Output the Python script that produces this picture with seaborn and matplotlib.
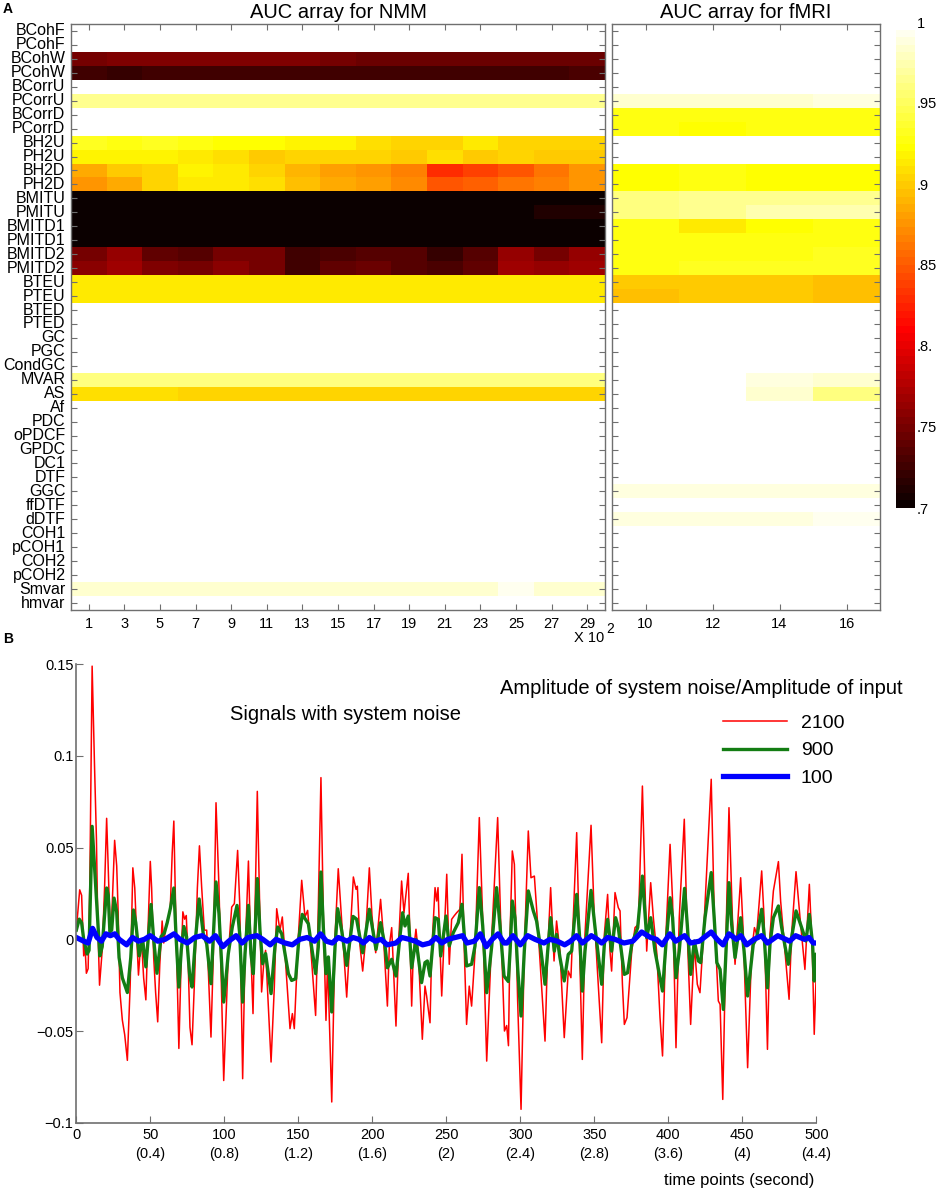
import numpy as np
import matplotlib
matplotlib.use('Agg')
import matplotlib.pyplot as plt
import seaborn as sns
import pandas as pd

plt.rcParams['font.family'] = ['Liberation Sans', 'DejaVu Sans']

W, H = 939, 1191

# ---- panel A data: AUC arrays ----
methods = ['BCohF', 'PCohF', 'BCohW', 'PCohW', 'BCorrU', 'PCorrU', 'BCorrD', 'PCorrD',
           'BH2U', 'PH2U', 'BH2D', 'PH2D', 'BMITU', 'PMITU', 'BMITD1', 'PMITD1',
           'BMITD2', 'PMITD2', 'BTEU', 'PTEU', 'BTED', 'PTED', 'GC', 'PGC', 'CondGC',
           'MVAR', 'AS', 'Af', 'PDC', 'oPDCF', 'GPDC', 'DC1', 'DTF', 'GGC', 'ffDTF',
           'dDTF', 'COH1', 'pCOH1', 'COH2', 'pCOH2', 'Smvar', 'hmvar']
nmm_cols = ['1', '3', '5', '7', '9', '11', '13', '15', '17', '19', '21', '23', '25', '27', '29']
fmri_cols = ['10', '12', '14', '16']

nmm_auc = [
    [1.0] * 15,
    [1.0] * 15,
    [0.748, 0.752, 0.752, 0.752, 0.752, 0.752, 0.752, 0.750, 0.746, 0.746, 0.746, 0.746, 0.746, 0.746, 0.746],
    [0.727, 0.722, 0.726, 0.726, 0.726, 0.726, 0.726, 0.726, 0.726, 0.726, 0.726, 0.726, 0.726, 0.726, 0.731],
    [1.0] * 15,
    [0.966, 0.966, 0.964, 0.966, 0.964, 0.966, 0.965, 0.964, 0.963, 0.965, 0.963, 0.963, 0.963, 0.963, 0.965],
    [1.0] * 15,
    [1.0] * 15,
    [0.930, 0.928, 0.930, 0.928, 0.922, 0.922, 0.920, 0.918, 0.908, 0.906, 0.906, 0.912, 0.906, 0.905, 0.903],
    [0.917, 0.917, 0.918, 0.913, 0.910, 0.897, 0.905, 0.905, 0.902, 0.900, 0.910, 0.897, 0.905, 0.900, 0.900],
    [0.883, 0.897, 0.904, 0.918, 0.914, 0.904, 0.890, 0.880, 0.874, 0.865, 0.827, 0.839, 0.846, 0.862, 0.876],
    [0.874, 0.887, 0.904, 0.911, 0.911, 0.907, 0.893, 0.887, 0.881, 0.870, 0.846, 0.850, 0.862, 0.865, 0.874],
    [0.701] * 15,
    [0.701, 0.701, 0.701, 0.701, 0.701, 0.701, 0.701, 0.701, 0.701, 0.701, 0.701, 0.701, 0.701, 0.711, 0.711],
    [0.701] * 15,
    [0.701] * 15,
    [0.750, 0.761, 0.742, 0.735, 0.747, 0.747, 0.728, 0.732, 0.737, 0.733, 0.721, 0.733, 0.761, 0.750, 0.762],
    [0.758, 0.770, 0.753, 0.750, 0.760, 0.748, 0.726, 0.738, 0.746, 0.733, 0.731, 0.738, 0.768, 0.764, 0.768],
    [0.914] * 15,
    [0.914] * 15,
    [1.0] * 15,
    [1.0] * 15,
    [1.0] * 15,
    [1.0] * 15,
    [1.0] * 15,
    [0.958] * 15,
    [0.907, 0.907, 0.907, 0.902, 0.902, 0.902, 0.902, 0.902, 0.902, 0.902, 0.902, 0.902, 0.902, 0.902, 0.902],
    [1.0] * 15,
    [1.0] * 15,
    [1.0] * 15,
    [1.0] * 15,
    [1.0] * 15,
    [1.0] * 15,
    [1.0] * 15,
    [1.0] * 15,
    [1.0] * 15,
    [1.0] * 15,
    [1.0] * 15,
    [1.0] * 15,
    [1.0] * 15,
    [0.985, 0.985, 0.985, 0.985, 0.985, 0.985, 0.985, 0.985, 0.985, 0.985, 0.985, 0.985, 0.993, 0.985, 0.985],
    [1.0] * 15,
]

fmri_auc = [
    [1.0, 1.0, 1.0, 1.0],
    [1.0, 1.0, 1.0, 1.0],
    [1.0, 1.0, 1.0, 1.0],
    [1.0, 1.0, 1.0, 1.0],
    [1.0, 1.0, 1.0, 1.0],
    [0.982, 0.982, 0.982, 0.987],
    [0.926, 0.926, 0.926, 0.926],
    [0.925, 0.922, 0.926, 0.925],
    [1.0, 1.0, 1.0, 1.0],
    [1.0, 1.0, 1.0, 1.0],
    [0.924, 0.928, 0.924, 0.924],
    [0.924, 0.928, 0.924, 0.924],
    [0.960, 0.965, 0.965, 0.965],
    [0.958, 0.963, 0.972, 0.972],
    [0.925, 0.915, 0.923, 0.925],
    [0.925, 0.928, 0.928, 0.928],
    [0.928, 0.928, 0.928, 0.930],
    [0.928, 0.930, 0.930, 0.933],
    [0.897, 0.897, 0.897, 0.895],
    [0.893, 0.899, 0.899, 0.893],
    [1.0, 1.0, 1.0, 1.0],
    [1.0, 1.0, 1.0, 1.0],
    [1.0, 1.0, 1.0, 1.0],
    [1.0, 1.0, 1.0, 1.0],
    [1.0, 1.0, 1.0, 1.0],
    [1.0, 1.0, 0.990, 0.985],
    [1.0, 1.0, 0.984, 0.962],
    [1.0, 1.0, 1.0, 1.0],
    [1.0, 1.0, 1.0, 1.0],
    [1.0, 1.0, 1.0, 1.0],
    [1.0, 1.0, 1.0, 1.0],
    [1.0, 1.0, 1.0, 1.0],
    [1.0, 1.0, 1.0, 1.0],
    [0.988, 0.988, 0.988, 0.988],
    [1.0, 1.0, 1.0, 1.0],
    [0.986, 0.990, 0.990, 0.995],
    [1.0, 1.0, 1.0, 1.0],
    [1.0, 1.0, 1.0, 1.0],
    [1.0, 1.0, 1.0, 1.0],
    [1.0, 1.0, 1.0, 1.0],
    [1.0, 1.0, 1.0, 1.0],
    [1.0, 1.0, 1.0, 1.0],
]

cbar_ticks = [0.7, 0.75, 0.8, 0.85, 0.9, 0.95, 1.0]
cbar_labels = ['.7', '.75', '.8.', '.85', '.9', '.95', '1']

# ---- panel B data: signals (time point, amplitude) ----
red_t = [0, 2.3, 3.6, 5, 5.9, 6.8, 8, 9.1, 10.7, 12.3, 13.6, 14.5, 15.7, 17.5, 19.1, 20.5, 21.4,
         22.7, 23.9, 25.9, 27.3, 28.2, 29.5, 31.1, 32.7, 34.5, 36.4, 38.2, 39.5, 40.9, 42, 43.2,
         44.3, 45.5, 47, 48.6, 50, 50.9, 52.3, 53.6, 55, 56.4, 58, 59.1, 60.5, 61.8, 63.4, 64.8,
         65.9, 67.3, 69.3, 70.9, 72, 73.2, 74.3, 75.5, 76.8, 78.2, 80, 81.8, 83.2, 84.7, 86.5,
         88.1, 91.0, 92.6, 94.4, 96.4, 99.6, 102.7, 105, 106.8, 109.0, 110.4, 112.4, 114.0, 116.3,
         118.0, 119.4, 122.3, 124.1, 125.2, 126.8, 127.9, 131.6, 133.8, 135.4, 137.6, 139.2, 141.0,
         144.4, 146.0, 147.3, 150.0, 152.3, 154.5, 156.3, 159.0, 161.7, 163.1, 165.3, 166.9, 168.7,
         169.8, 172.6, 174.8, 177.0, 179.3, 182.7, 187.2, 189.0, 189.9, 191.7, 193.5, 195.1, 198.0,
         199.8, 202.3, 205.6, 207.5, 210.2, 211.5, 213.1, 216.0, 218.0, 219.8, 221.4, 224.3, 226.6,
         227.7, 229.5, 231.1, 233.8, 235.6, 236.7, 239.0, 240.1, 242.4, 243.5, 244.4, 245.7, 246.9,
         250.3, 252.0, 253.6, 255.2, 257.0, 259.2, 260.6, 262.2, 263.7, 265.5, 267.1, 269.4, 272.3,
         274.6, 277.3, 280.7, 284.7, 286.7, 289.3, 290.8, 292.0, 293.1, 294.6, 296.0, 298.2, 300.5,
         302.7, 305.4, 307.2, 309.5, 312.2, 316.7, 318.5, 320.5, 322.8, 324.5, 326.8, 329.7, 332.4,
         334.2, 338.1, 341.9, 343.7, 347.8, 350.0, 355.0, 356.8, 359.0, 360.6, 361.7, 364.0, 366.2,
         367.4, 369.0, 370.3, 372.1, 375.3, 377.5, 379.8, 382.5, 385.4, 388.1, 389.9, 392.2, 394.4,
         396.1, 398.4, 401.2, 402.9, 405.2, 407.4, 410.8, 412.8, 415.1, 417.6, 419.6, 421.4, 423.8,
         429.0, 431.1, 433.8, 435.0, 436.8, 439.0, 441.0, 443.3, 445.1, 448.9, 450.7, 453.6, 456.3,
         458.2, 459.7, 463.1, 464.7, 467.0, 468.7, 471.0, 474.4, 475.9, 481.6, 483.3, 486.3, 489.0,
         492.3, 495.3, 497.3, 498.6, 500]
red_v = [0.005, 0.027, 0.024, -0.009, -0.004, -0.0185, -0.016, 0.028, 0.149, 0.095, 0.055, 0.009,
         -0.025, -0.006, 0.028, 0.066, 0.0435, 0.009, 0.011, 0.054, 0.04, 0.017, -0.029, -0.044,
         -0.052, -0.066, -0.025, 0.039, 0.028, 0.0, -0.0195, -0.006, -0.004, -0.021, -0.033, 0.009,
         0.0425, 0.028, -0.01, -0.029, -0.045, -0.014, 0.010, -0.002, 0.007, 0.011, 0.015, 0.047,
         0.0645, 0.009, -0.0595, -0.01, 0.015, 0.011, 0.013, -0.01, -0.048, -0.0575, -0.0195, 0.028,
         0.051, 0.0285, 0.005, 0.005, -0.0533, -0.008, 0.0745, 0.0285, -0.077, -0.008, 0.0176,
         0.0195, 0.0485, 0.0195, -0.076, -0.008, 0.0427, -0.008, -0.0405, 0.0807, 0.0104, -0.0287,
         -0.0115, -0.006, -0.0669, -0.026, 0.0167, 0.0049, 0.0122, -0.0078, -0.0487, -0.0405,
         -0.0487, 0.0013, 0.0322, 0.0122, 0.0158, -0.0115, -0.0415, 0.0013, 0.0882, 0.014, -0.0442,
         -0.0115, -0.0887, 0.0013, 0.0385, 0.0104, -0.0315, 0.0340, 0.0273, 0.029, -0.0036, -0.0173,
         -0.0036, 0.039, 0.0127, -0.0073, 0.0218, 0.0018, -0.0364, -0.0036, 0.0064, -0.0473, 0.0018,
         0.0318, 0.0145, 0.036, -0.0364, -0.0073, 0.0055, -0.0073, -0.0545, -0.0255, -0.0309,
         -0.0455, -0.0073, 0.0282, 0.0209, 0.0282, -0.0036, -0.0309, 0.0355, -0.0136, 0.0109, 0.0127,
         0.0145, 0.0164, 0.0464, -0.0073, -0.0464, -0.0255, -0.0364, -0.0073, 0.0664, 0.0109,
         -0.0664, 0.0018, 0.0664, 0.0109, -0.050, -0.047, -0.058, 0.0027, 0.0482, 0.0409, -0.0336,
         -0.0927, -0.0064, 0.0591, 0.0336, 0.0345, 0.0027, -0.0555, -0.0064, 0.0282, -0.0118, 0.010,
         -0.0064, -0.0536, -0.0173, -0.0209, 0.0582, -0.0655, 0.0027, 0.0622, 0.0118, -0.0564,
         0.0027, 0.0245, -0.0064, -0.0173, 0.0255, 0.0173, 0.0155, -0.0245, -0.0464, -0.0427,
         -0.0064, 0.0064, 0.0082, 0.0836, -0.0064, 0.0309, 0.0118, -0.0073, -0.0427, -0.0636,
         0.0027, 0.0518, 0.0209, -0.0591, 0.0118, 0.0655, 0.0027, -0.0464, -0.0027, -0.0245,
         -0.0291, 0.0027, 0.0873, 0.0118, -0.0336, -0.0355, -0.0873, 0.0027, 0.0718, 0.0118,
         -0.0136, 0.0336, 0.0027, -0.070, -0.0064, 0.0064, 0.0027, 0.0373, 0.0118, -0.060, 0.0027,
         0.0264, 0.0424, 0.0209, -0.0327, 0.0027, 0.0369, 0.0118, -0.0164, 0.030, -0.0064, -0.0518,
         -0.0173]

green_t = [0, 2.0, 3.6, 5, 7.3, 8.6, 10.7, 12.3, 14.1, 15.9, 17.5, 20.5, 21.6, 22.7, 23.9, 25.5,
           27.3, 28.9, 31.1, 34.5, 36.8, 38.6, 40.2, 42.5, 44.8, 47, 50.5, 52.3, 54.5, 57.3, 59.5,
           61.4, 63.6, 65.9, 67.5, 69.3, 70.9, 72.7, 74.5, 76.6, 78.2, 80.5, 83.0, 85.8, 88.1,
           91.0, 94.4, 96.4, 99.6, 102.7, 105.4, 108.6, 110.4, 112.4, 114.0, 116.3, 118.0, 119.6,
           122.3, 124.1, 125.9, 127.9, 131.6, 134.2, 136.1, 138.8, 141.0, 143.3, 145.5, 148.2, 150.5,
           152.7, 156.8, 159.0, 161.7, 163.5, 165.3, 166.9, 168.7, 170.3, 172.6, 174.8, 176.6, 179.3,
           182.7, 187.0, 189.4, 193.5, 198.0, 202.5, 205.6, 208.6, 210.2, 213.1, 216.0, 218.7, 220.5,
           222.1, 224.3, 226.6, 229.5, 233.3, 235.6, 237.2, 239.0, 242.4, 244.6, 246.2, 249.8, 252.0,
           254.7, 258.1, 260.6, 263.7, 267.1, 269.4, 272.3, 274.6, 277.3, 280.7, 284.0, 286.3, 289.0,
           291.9, 293.1, 294.6, 296.4, 298.2, 300.5, 302.7, 305.4, 308.8, 311.0, 314.0, 316.7, 318.5,
           320.5, 323.0, 324.5, 326.8, 329.7, 332.4, 334.7, 338.1, 340.4, 341.9, 343.7, 347.8, 350.5,
           355.0, 356.8, 359.0, 361.7, 364.4, 366.2, 370.3, 372.5, 375.3, 379.3, 382.5, 385.4, 388.1,
           391.0, 396.1, 398.4, 401.2, 402.9, 405.2, 407.4, 411.0, 412.8, 415.1, 417.6, 420.3, 421.9,
           424.8, 429.0, 431.0, 432.8, 435.0, 437.2, 439.0, 441.0, 442.8, 445.1, 448.9, 451.2, 453.6,
           457.4, 459.7, 463.1, 464.7, 467.0, 468.7, 471.0, 474.4, 476.6, 481.1, 483.3, 486.3, 490.1,
           493.0, 495.3, 497.5, 498.6, 500]
green_v = [0.005, 0.011, 0.009, 0.0, -0.008, -0.006, 0.0616, 0.04, 0.015, -0.009, -0.004, 0.028,
           0.024, 0.004, 0.005, 0.0225, 0.015, -0.01, -0.021, -0.029, -0.01, 0.016, 0.009, -0.009,
           0.0, -0.015, 0.019, 0.0, -0.0185, 0.0015, 0.0035, 0.009, 0.017, 0.028, 0.0, -0.026,
           -0.006, 0.007, 0.0015, -0.0195, -0.026, 0.0, 0.022, 0.003, -0.0024, -0.0242, 0.0313,
           0.014, -0.0342, -0.0078, 0.0067, 0.0185, 0.003, -0.0342, -0.0078, 0.0185, -0.0078,
           -0.0187, 0.0331, 0.0049, -0.0133, -0.0078, -0.0296, -0.0042, 0.0067, 0.003, -0.0078,
           -0.0187, -0.0224, -0.0215, 0.0013, 0.0136, 0.0085, -0.0042, -0.0187, -0.0042, 0.0367,
           0.0067, -0.0187, -0.0096, -0.0396, -0.0042, 0.0167, 0.0049, -0.0142, 0.0125, 0.011,
           -0.0073, 0.0164, -0.0055, 0.0091, -0.0036, -0.0155, -0.0109, -0.020, 0.0018, 0.0145,
           0.0073, 0.0127, -0.0155, 0.0, -0.0236, -0.0127, -0.0118, -0.020, 0.0118, 0.0109, -0.0091,
           0.0127, -0.0036, 0.0036, 0.0091, 0.0191, -0.0145, -0.0136, -0.0036, 0.0282, 0.0073,
           -0.0291, -0.0036, 0.0282, 0.0073, -0.020, -0.023, -0.0064, 0.0209, 0.0118, -0.0155,
           -0.0418, -0.0064, 0.0264, 0.0155, 0.010, -0.0064, -0.0245, -0.0064, 0.0118, -0.0064,
           0.0027, -0.010, -0.0227, -0.0082, -0.0064, 0.0245, -0.0027, -0.0282, -0.0064, 0.0267,
           0.0064, -0.0245, -0.0027, 0.0109, -0.0064, 0.0118, 0.0064, -0.0191, -0.0182, -0.0027,
           0.0064, 0.0345, 0.0009, 0.0118, -0.0064, -0.0282, -0.0027, 0.0227, 0.0118, -0.0209,
           -0.0064, 0.0278, 0.0082, -0.0191, -0.0009, -0.0118, -0.0127, 0.0118, 0.0364, 0.0118,
           -0.0127, -0.0164, -0.0382, -0.0064, 0.0309, 0.0082, -0.010, 0.0118, -0.0064, -0.0309,
           -0.0027, 0.0009, 0.0164, 0.0027, -0.0264, -0.0027, 0.0118, 0.0182, 0.0064, -0.0136,
           0.0009, 0.0155, 0.0064, -0.0009, 0.0136, -0.0027, -0.0227, -0.0082]

blue_t = [0, 5, 8, 11, 14, 17, 20, 23, 26, 29, 34, 38, 42, 46, 50, 55, 60, 66, 70, 75, 80, 85, 90,
          94, 99, 103, 108, 112, 116, 122, 126, 131, 135, 141, 146, 151, 156, 161, 165, 169, 173,
          177, 183, 187, 191, 194, 198, 202, 206, 210, 216, 220, 225, 229, 234, 239, 243, 247, 251,
          256, 261, 264, 269, 273, 277, 281, 285, 289, 291, 295, 300, 305, 310, 316, 320, 325, 330,
          334, 338, 342, 348, 352, 355, 359, 364, 370, 376, 382, 388, 392, 396, 401, 405, 411, 415,
          421, 429, 433, 437, 441, 446, 449, 453, 458, 463, 467, 474, 482, 486, 492, 495, 498, 500]
blue_v = [0.001, -0.001, -0.002, 0.006, 0.001, -0.001, 0.003, 0.002, 0.003, 0.0, -0.003, 0.001,
          -0.001, 0.0, 0.002, -0.001, 0.0, 0.003, 0.0, -0.002, 0.001, 0.002, -0.001, 0.002, -0.004,
          -0.001, 0.002, -0.002, 0.001, 0.002, 0.0, -0.003, 0.0, -0.002, -0.003, 0.0, 0.001, -0.001,
          0.003, -0.001, -0.002, 0.001, -0.001, 0.001, 0.0, -0.002, 0.001, -0.001, 0.0, -0.003,
          -0.002, 0.001, 0.0, -0.001, -0.003, -0.002, 0.001, -0.002, 0.0, 0.001, 0.002, -0.002,
          -0.001, 0.003, -0.004, 0.0, 0.003, -0.002, -0.002, 0.002, -0.003, 0.002, 0.0, -0.002, 0.0,
          -0.001, -0.003, -0.001, 0.002, -0.002, 0.002, 0.0, -0.002, 0.001, 0.0, -0.002, -0.001,
          0.004, 0.001, 0.0, -0.003, 0.003, -0.001, 0.002, -0.002, -0.001, 0.004, 0.0, -0.003,
          0.003, 0.0, 0.002, -0.003, 0.0, 0.002, -0.002, 0.002, -0.001, 0.002, 0.0, 0.001, -0.002,
          -0.002]

time_ticks = [0, 50, 100, 150, 200, 250, 300, 350, 400, 450, 500]
time_labels = ['0', '50\n(0.4)', '100\n(0.8)', '150\n(1.2)', '200\n(1.6)', '250\n(2)',
               '300\n(2.4)', '350\n(2.8)', '400\n(3.6)', '450\n(4)', '500\n(4.4)']
amp_ticks = [-0.1, -0.05, 0, 0.05, 0.1, 0.15]
amp_labels = ['\u22120.1', '\u22120.05', '0', '0.05', '0.1', '0.15']
noise_levels = ['2100', '900', '100']


def box(l, t, r, b):
    return [l / W, 1 - b / H, (r - l) / W, (b - t) / H]


fig = plt.figure(figsize=(W / 100, H / 100), dpi=100)
ax1 = fig.add_axes(box(71, 24, 605, 610))
ax2 = fig.add_axes(box(612, 24, 880, 610))
cax = fig.add_axes(box(896, 22, 915, 508))
ax3 = fig.add_axes(box(76.3, 664.3, 816.3, 1122.7))

cmap = plt.get_cmap('hot', 64)
gray = '#6f6f6f'

df_nmm = pd.DataFrame(nmm_auc, index=methods, columns=nmm_cols)
df_fmri = pd.DataFrame(fmri_auc, index=methods, columns=fmri_cols)

sns.heatmap(df_nmm, ax=ax1, cmap=cmap, vmin=0.7, vmax=1.0, cbar_ax=cax,
            xticklabels=True, yticklabels=True)
sns.heatmap(df_fmri, ax=ax2, cmap=cmap, vmin=0.7, vmax=1.0, cbar=False,
            xticklabels=True, yticklabels=True)

for ax in (ax1, ax2):
    for sp in ax.spines.values():
        sp.set_visible(True)
        sp.set_color(gray)
        sp.set_linewidth(1.0)
    ax.tick_params(axis='both', direction='in', length=4, width=0.8, color=gray,
                   top=True, right=True, bottom=True, left=True)
    ax.tick_params(axis='x', labelsize=10.5, pad=5, labelrotation=0)
    ax.set_xlabel('')
    ax.set_ylabel('')

ax1.set_yticklabels(methods, rotation=0, fontsize=11.5)
ax1.tick_params(axis='y', pad=4)
ax2.tick_params(axis='y', labelleft=False)
ax1.set_title('AUC array for NMM', fontsize=14.5, pad=4)
ax2.set_title('AUC array for fMRI', fontsize=14.5, pad=4)

cax.set_yticks(cbar_ticks)
cax.set_yticklabels(cbar_labels)
cax.tick_params(length=0, labelsize=10.5, pad=1)
cbar = ax1.collections[0].colorbar
if cbar is not None:
    cbar.outline.set_edgecolor('#444444')

fig.text(604 / W, 1 - 638 / H, 'X 10', fontsize=10.5, ha='right', va='center')
fig.text(606 / W, 1 - 629 / H, '2', fontsize=10, ha='left', va='center')

# ---- panel B ----
sns.lineplot(x=red_t, y=red_v, ax=ax3, color='#ff0000', linewidth=1.1,
             estimator=None, sort=False)
sns.lineplot(x=green_t, y=green_v, ax=ax3, color='#137d13', linewidth=2.4,
             estimator=None, sort=False)
sns.lineplot(x=blue_t, y=blue_v, ax=ax3, color='#0000ff', linewidth=3.8,
             estimator=None, sort=False)

ax3.set_xlim(0, 500)
ax3.set_ylim(-0.1, 0.15)
ax3.set_xticks(time_ticks)
ax3.set_xticklabels(time_labels, linespacing=1.45)
ax3.set_yticks(amp_ticks)
ax3.set_yticklabels(amp_labels)
ax3.tick_params(axis='both', direction='in', length=5, width=0.8, color=gray,
                labelsize=10.5)
ax3.tick_params(axis='x', pad=4)
ax3.tick_params(axis='y', pad=2)
for side in ('top', 'right'):
    ax3.spines[side].set_visible(False)
for side in ('left', 'bottom'):
    ax3.spines[side].set_color(gray)
    ax3.spines[side].set_linewidth(1.2)

leg = ax3.legend(ax3.get_lines()[:3], noise_levels, loc='upper left',
                 bbox_to_anchor=(723 / W, 1 - 714 / H), bbox_transform=fig.transFigure,
                 frameon=False, borderpad=0, borderaxespad=0, fontsize=14,
                 handlelength=3.3, handletextpad=0.7, labelspacing=0.52)

fig.text(701 / W, 1 - 688 / H, 'Amplitude of system noise/Amplitude of input',
         fontsize=14.5, ha='center', va='center')
fig.text(346 / W, 1 - 715 / H, 'Signals with system noise',
         fontsize=14.5, ha='center', va='center')
fig.text(739 / W, 1 - 1181 / H, 'time points (second)', fontsize=12,
         ha='center', va='center')

fig.text(8 / W, 1 - 9 / H, 'A', fontsize=10, weight='bold', ha='center', va='center')
fig.text(8 / W, 1 - 639 / H, 'B', fontsize=10, weight='bold', ha='center', va='center')

fig.savefig('out.png', dpi=100)
